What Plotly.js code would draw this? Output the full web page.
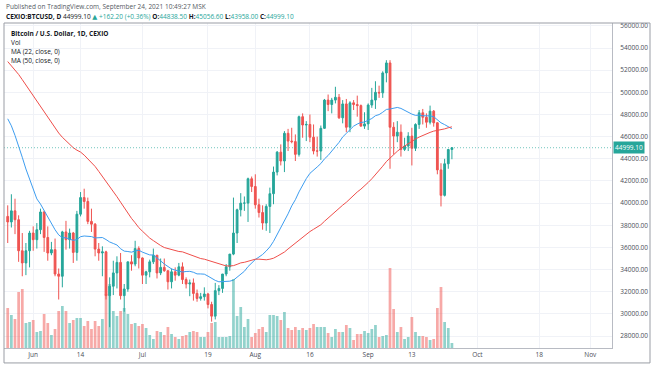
<!DOCTYPE html>
<html><head><meta charset="utf-8">
<script src="https://cdn.plot.ly/plotly-3.0.1.min.js"></script>
<style>html,body{margin:0;padding:0;background:#fff}#chart{width:654px;height:366px}</style>
</head><body><div id="chart"></div>
<script>
const dates = [
'2021-05-25','2021-05-26','2021-05-27','2021-05-28','2021-05-29','2021-05-30','2021-05-31',
'2021-06-01','2021-06-02','2021-06-03','2021-06-04','2021-06-05','2021-06-06','2021-06-07','2021-06-08','2021-06-09','2021-06-10',
'2021-06-11','2021-06-12','2021-06-13','2021-06-14','2021-06-15','2021-06-16','2021-06-17','2021-06-18','2021-06-19','2021-06-20',
'2021-06-21','2021-06-22','2021-06-23','2021-06-24','2021-06-25','2021-06-26','2021-06-27','2021-06-28','2021-06-29','2021-06-30',
'2021-07-01','2021-07-02','2021-07-03','2021-07-04','2021-07-05','2021-07-06','2021-07-07','2021-07-08','2021-07-09','2021-07-10',
'2021-07-11','2021-07-12','2021-07-13','2021-07-14','2021-07-15','2021-07-16','2021-07-17','2021-07-18','2021-07-19','2021-07-20',
'2021-07-21','2021-07-22','2021-07-23','2021-07-24','2021-07-25','2021-07-26','2021-07-27','2021-07-28','2021-07-29','2021-07-30','2021-07-31',
'2021-08-01','2021-08-02','2021-08-03','2021-08-04','2021-08-05','2021-08-06','2021-08-07','2021-08-08','2021-08-09','2021-08-10',
'2021-08-11','2021-08-12','2021-08-13','2021-08-14','2021-08-15','2021-08-16','2021-08-17','2021-08-18','2021-08-19','2021-08-20',
'2021-08-21','2021-08-22','2021-08-23','2021-08-24','2021-08-25','2021-08-26','2021-08-27','2021-08-28','2021-08-29','2021-08-30','2021-08-31',
'2021-09-01','2021-09-02','2021-09-03','2021-09-04','2021-09-05','2021-09-06','2021-09-07','2021-09-08','2021-09-09','2021-09-10',
'2021-09-11','2021-09-12','2021-09-13','2021-09-14','2021-09-15','2021-09-16','2021-09-17','2021-09-18','2021-09-19','2021-09-20',
'2021-09-21','2021-09-22','2021-09-23','2021-09-24'];

const open = [
38800,38300,39300,38500,35700,34600,35700,
37300,36700,37600,39200,36900,35500,35800,33600,33400,37400,36700,37300,35550,39000,40500,40150,38350,38100,35850,35500,35600,31650,32500,33700,34650,31650,32250,34700,34500,35900,
35050,33500,33800,34700,35300,33700,34200,33900,32900,33800,33500,34250,33100,32700,32800,31850,31400,31550,31800,30850,29800,32100,32300,33600,34250,35400,37300,39400,40000,40000,42200,
41500,39850,39150,38200,39700,40850,42800,44600,43800,46300,45600,45550,44400,47800,47050,47100,45950,44700,44700,46750,49300,48900,49300,49550,47700,48950,46850,49050,48900,48800,46950,
47150,48850,49300,50000,49950,51750,52650,46850,46050,46400,44850,45150,46050,44950,47100,48150,47750,47300,48300,47250,43000,40700,43550,44838.5];
const high = [
39800,40800,40400,38900,37300,36400,37500,
37900,38200,39500,39300,37900,36500,36800,34100,37500,38400,37700,37400,39300,41000,41300,40500,39500,38200,36400,36100,35700,33300,34800,35200,35500,32700,34700,35300,36600,36100,
35100,33900,34900,35900,35300,35000,35000,33900,34100,34200,34600,34650,33300,33100,33200,32200,31900,32400,31900,31100,32800,32600,33600,34500,35400,40500,39500,40900,40600,42300,42400,
42600,40400,39800,39900,41400,43300,44700,45300,46500,46700,46800,46200,47900,48100,47400,48000,47100,46000,47000,49400,49800,49500,50500,49850,49300,49400,49200,49300,49700,48900,48200,
49000,50400,51000,50600,51900,52900,52900,47300,47400,47100,45900,46400,46800,47200,48400,48500,48100,48800,48400,47300,43600,44000,44900,45056.6];
const low = [
36400,37800,37200,34700,33400,33500,34200,
35700,35900,37200,35600,34800,35300,33400,31300,32400,35800,35900,34600,34800,38800,39500,38100,37400,35200,34800,33400,31300,28800,31700,32300,31300,30200,32000,33900,34300,34100,
32700,32700,33300,34500,33200,33500,33800,32200,32300,33000,33400,32700,32300,31600,31200,31100,31200,31200,30500,29300,29500,31700,31900,33400,33900,35300,36400,38800,39300,38300,41000,
39500,38700,37600,37500,37300,39900,42500,43400,42800,44700,45400,43800,44200,45900,45600,45500,44400,44200,43900,46700,48300,48100,49000,47600,47200,46400,46400,48400,47800,46900,46700,
46600,48600,48500,49500,49500,50900,43100,44400,45500,44200,44700,44700,43400,44700,46700,47100,46800,47100,46900,42600,39700,40600,43100,43958];
const close = [
38300,39300,38500,35700,34600,35700,37300,
36700,37600,39200,36900,35500,35800,33600,33400,37400,36700,37300,35550,39000,40500,40150,38350,38100,35850,35500,35600,31650,32500,33700,34650,31650,32250,34700,34500,35900,35050,
33500,33800,34700,35300,33700,34200,33900,32900,33800,33500,34250,33100,32700,32800,31850,31400,31550,31800,30850,29800,32100,32300,33600,34250,35400,37300,39400,40000,40000,42200,41500,
39850,39150,38200,39700,40850,42800,44600,43800,46300,45600,45550,44400,47800,47050,47100,45950,44700,44700,46750,49300,48900,49300,49550,47700,48950,46850,49050,48900,48800,46950,47150,
48850,49300,50000,49950,51750,52650,46850,46050,46400,44850,45150,46050,44950,47100,48150,47750,47300,48300,47250,43000,40700,43550,44836.9,44999.1];
const volume = [
2000,1650,1450,2800,2950,1250,1300,
1400,800,850,1700,1250,650,950,1850,2100,1850,1250,1400,1500,1500,1100,1350,950,1350,1100,1450,2700,3200,1850,1600,1850,2000,1700,1200,1250,1100,
1200,1000,650,450,850,800,650,1050,700,550,450,600,650,800,850,800,550,550,800,1250,1300,550,550,550,600,3450,1600,2050,1050,1450,550,
750,950,1050,800,1650,1650,1600,1400,1800,1000,900,1050,900,1000,900,1000,1200,1050,1050,1050,750,550,950,800,800,1150,1000,400,700,700,850,
750,950,1150,550,600,650,4000,1950,800,1050,450,550,1550,800,600,600,550,400,450,2000,3050,1300,1000,250];
// closes of the 49 days before the first visible candle (for the moving averages)
const warmupCloses = [
57600,56000,58100,58100,59800,59900,59800,63600,62900,63200,61400,60000,56200,55700,56500,53800,51700,51200,50100,49000,54000,55000,54800,53600,57800,
57800,56600,57200,53200,57500,56400,57400,58900,58300,55900,56800,49500,49700,49900,46800,46400,43600,42900,37000,40600,37300,37500,34700,38800];

const xTickVals = ['2021-06-01','2021-06-14','2021-07-01','2021-07-19','2021-08-01','2021-08-16','2021-09-01','2021-09-13','2021-10-01','2021-10-18','2021-11-01'];
const xTickText = ['Jun','14','Jul','19','Aug','16','Sep','13','Oct','18','Nov'];
const yTickVals = [28000,30000,32000,34000,36000,38000,40000,42000,44000,46000,48000,50000,52000,54000,56000];

const UP = '#26a69a', DOWN = '#ef5350';
const FONT = 'Open Sans, DejaVu Sans, sans-serif';

function sma(n) {
  const all = warmupCloses.concat(close);
  const out = [];
  for (let i = 0; i < close.length; i++) {
    const k = warmupCloses.length + i;
    let s = 0;
    for (let j = k - n + 1; j <= k; j++) s += all[j];
    out.push(s / n);
  }
  return out;
}

const volColors = close.map((c, i) => c >= open[i] ? 'rgba(38,166,154,0.5)' : 'rgba(239,83,80,0.5)');

const traces = [
  {type: 'bar', x: dates, y: volume, yaxis: 'y2', marker: {color: volColors, line: {width: 0}}, hoverinfo: 'skip'},
  {type: 'candlestick', x: dates, open: open, high: high, low: low, close: close,
   increasing: {line: {color: UP, width: 1}, fillcolor: UP},
   decreasing: {line: {color: DOWN, width: 1}, fillcolor: DOWN}, hoverinfo: 'skip'},
  {type: 'scatter', mode: 'lines', x: dates, y: sma(22), line: {color: '#3d9df0', width: 1}, hoverinfo: 'skip'},
  {type: 'scatter', mode: 'lines', x: dates, y: sma(50), line: {color: '#ef4e4a', width: 1}, hoverinfo: 'skip'}
];

const n = close.length;
const lastC = close[n - 1], prevC = close[n - 2];
const chg = lastC - prevC;
const pct = chg / prevC * 100;
const g = s => '<span style="color:' + UP + '">' + s + '</span>';
const hdr2 = '<b>CEXIO:BTCUSD, D</b> ' + lastC.toFixed(2) + ' ' + g('▲ ' + (chg >= 0 ? '+' : '') + chg.toFixed(2) + ' (' + (chg >= 0 ? '+' : '') + pct.toFixed(2) + '%)') +
  ' <b>O:</b>' + g(open[n-1].toFixed(2)) + ' <b>H:</b>' + g(high[n-1].toFixed(2)) + ' <b>L:</b>' + g(low[n-1].toFixed(2)) + ' <b>C:</b>' + g(lastC.toFixed(2));

const txt = (text, y, opts) => Object.assign({xref: 'paper', yref: 'paper', x: 0.008, y: y, xanchor: 'left', yanchor: 'middle', showarrow: false,
  text: text, font: {family: FONT, size: 6.5, color: '#131722'}}, opts || {});

const layout = {
  width: 654, height: 366,
  margin: {l: 4, r: 42, t: 23, b: 18, pad: 0},
  paper_bgcolor: '#ffffff', plot_bgcolor: '#ffffff',
  showlegend: false,
  bargap: 0.25,
  xaxis: {type: 'date', range: ['2021-05-23 23:30', '2021-11-06 23:15'], tickmode: 'array', tickvals: xTickVals, ticktext: xTickText,
    showgrid: true, gridcolor: '#f0f2f7', gridwidth: 1, zeroline: false, ticks: '', showline: true, linecolor: '#b8bbc3', linewidth: 1,
    tickfont: {family: FONT, size: 6.5, color: '#4a4e57'}, rangeslider: {visible: false}, fixedrange: true},
  yaxis: {side: 'right', range: [26924, 56256], tickmode: 'array', tickvals: yTickVals, tickformat: '.2f',
    showgrid: true, gridcolor: '#f0f2f7', gridwidth: 1, zeroline: false, ticks: '', showline: true, linecolor: '#b8bbc3', linewidth: 1,
    ticklabelstandoff: 6, tickfont: {family: FONT, size: 6.5, color: '#4a4e57'}, fixedrange: true},
  yaxis2: {overlaying: 'y', range: [0, 16250], visible: false, fixedrange: true},
  shapes: [
    {type: 'line', xref: 'paper', yref: 'y', x0: 0, x1: 1, y0: lastC, y1: lastC, line: {color: 'rgba(38,166,154,0.65)', width: 1, dash: '1px,2px'}},
    {type: 'rect', xref: 'paper', yref: 'paper', x0: 0, x1: 1.0625, y0: -0.046, y1: 1, line: {color: '#9a9da5', width: 1}}
  ],
  annotations: [
    txt('Published on TradingView.com, September 24, 2021 10:49:27 MSK', 1.0523, {x: 0, font: {family: FONT, size: 6.5, color: '#555a63'}}),
    txt(hdr2, 1.0215, {x: 0}),
    txt('<b>Bitcoin / U.S. Dollar, 1D, CEXIO</b>', 0.9692),
    txt('Vol', 0.9385),
    txt('MA (22, close, 0)', 0.9108),
    txt('MA (50, close, 0)', 0.8831),
    {xref: 'paper', yref: 'y', x: 1, y: lastC, xanchor: 'left', yanchor: 'middle', xshift: 1, showarrow: false,
     text: lastC.toFixed(2), bgcolor: UP, borderpad: 1, font: {family: FONT, size: 6.5, color: '#ffffff'}}
  ]
};

Plotly.newPlot('chart', traces, layout, {displayModeBar: false, staticPlot: true});
</script></body></html>
